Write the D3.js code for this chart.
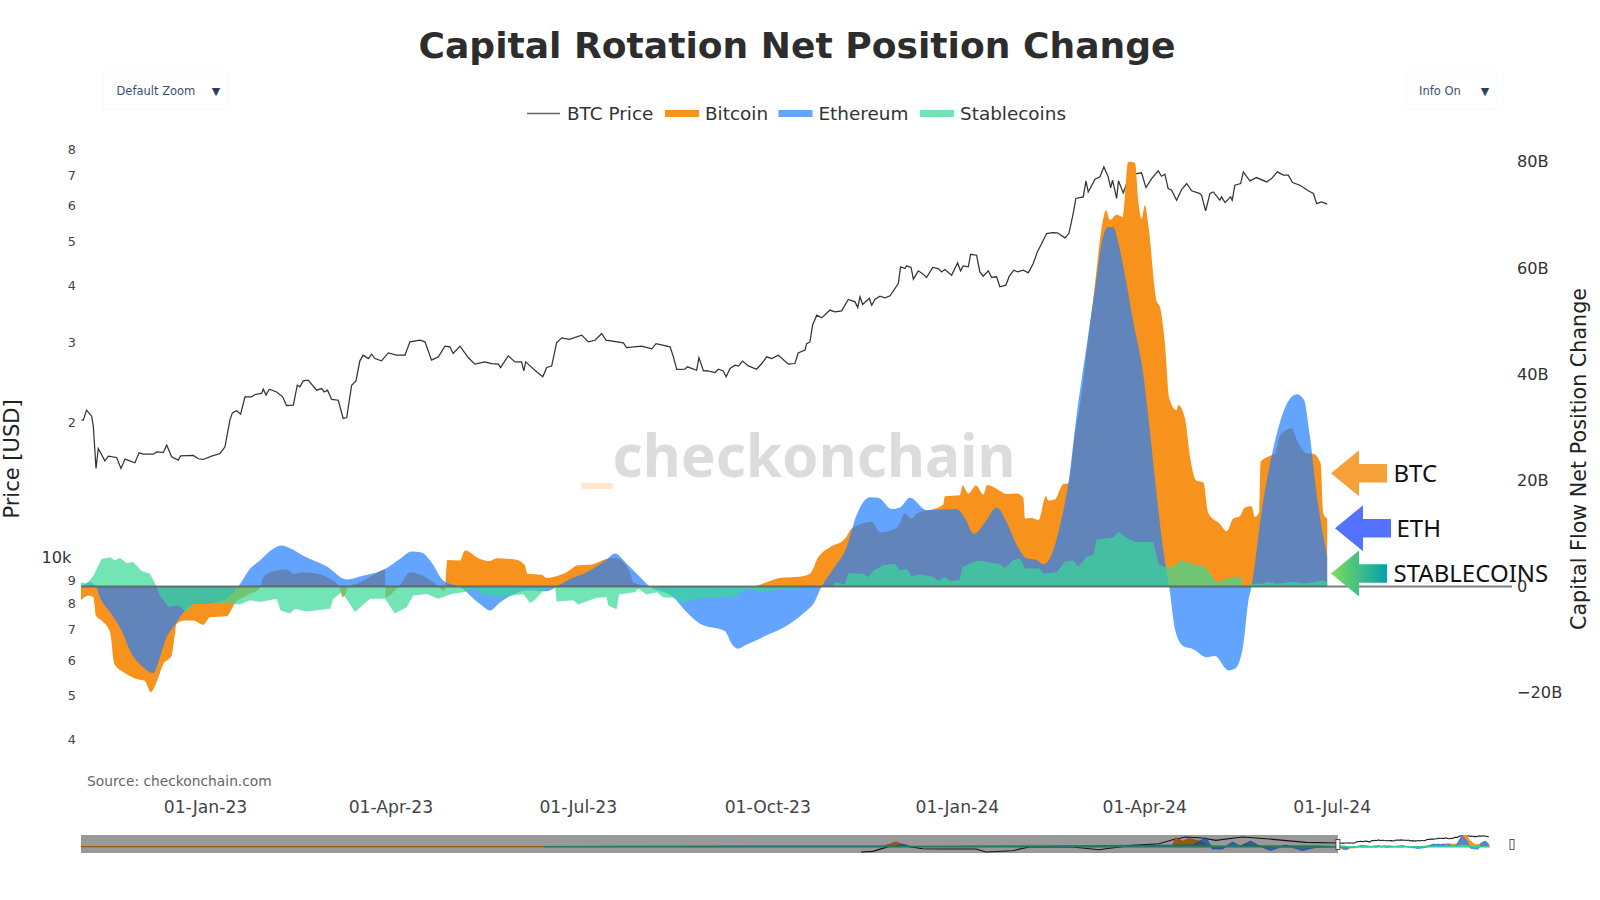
<!DOCTYPE html>
<html><head><meta charset="utf-8">
<script src="https://cdnjs.cloudflare.com/ajax/libs/d3/7.8.5/d3.min.js"></script>
<style>html,body{margin:0;padding:0;background:#fff;overflow:hidden}svg{display:block}text{font-family:"DejaVu Sans",sans-serif}</style>
</head><body><svg id="c" width="1600" height="900"></svg>
<script>
// All series are [days since 01-Jan-23, value]. Prices in USD, flows in $B.
const btcPrice=[[-60,20240],[-59.1,20240],[-57.5,21290],[-55,20650],[-54.2,19570],[-52.9,15840],[-51.8,17530],[-48.6,16470],[-46.9,16860],[-42.9,16750],[-40.8,15840],[-38.8,16610],[-34,16300],[-32,17150],[-30,17030],[-25.1,17030],[-23.5,17230],[-20.2,17180],[-18.6,17830],[-16.2,16800],[-13,16530],[-11.8,16890],[-5.7,16920],[-3.2,16640],[-.8,16580],[3.2,16860],[7.3,17090],[9.7,17680],[12.1,20240],[13.3,21000],[15.4,21220],[17.3,20860],[19.4,22780],[22.6,22780],[24.3,23050],[27.5,23170],[28.3,23680],[29.6,22980],[31.2,23680],[34.8,23350],[37.7,22780],[39.6,21800],[42.9,21840],[44.8,24160],[46.1,23960],[47.7,24700],[50.1,24790],[54.2,23560],[56.6,23750],[57.9,23350],[59.5,23560],[61.5,22480],[64.7,22390],[67.1,20410],[68.8,20510],[71.2,24160],[73.3,24700],[75.2,27340],[76.8,28130],[79.3,27660],[80.9,28270],[82.5,27660],[85.7,27340],[89,28470],[93,28130],[97.1,28130],[99.5,30110],[104.4,30350],[106.8,30110],[110,27440],[113.3,27900],[116.5,29450],[118.9,29360],[120.5,28380],[123.8,29450],[127.8,27800],[131,26880],[135.9,27200],[139.1,26970],[142.4,26880],[143.5,26430],[147.2,28040],[150.5,27200],[153.7,27200],[154.8,25980],[155.7,27200],[157.8,26650],[161,25860],[164,25210],[165.9,26430],[168.3,26620],[170.7,29960],[173.2,30720],[176.9,30470],[182.9,31150],[186.1,30100],[189.4,30350],[192.6,31400],[194.7,30350],[203.1,29960],[204.7,29250],[212,29450],[216.9,29050],[219,29840],[225.8,29360],[227.4,27900],[229,26170],[233,26200],[234.2,26520],[238.7,26070],[239.8,27770],[242,25980],[243.6,26000],[247.6,25770],[249.2,26200],[251.6,25980],[253,25210],[254.9,26300],[257.3,26750],[259,26620],[261,27300],[263.8,26650],[267.8,26200],[270.3,26970],[272.7,27900],[275.1,27660],[278.4,28130],[283.2,26880],[286.4,26970],[288,28470],[291.3,28870],[292.1,29840],[293.7,30090],[295,32800],[297,34470],[299.4,34000],[303.4,35370],[305.9,35040],[309.1,35220],[312.3,37330],[315.6,36870],[316.9,35830],[318,37810],[319.3,36380],[322.5,37520],[323.7,36250],[325.3,37370],[327.7,37950],[330.1,37640],[332.6,38020],[336.6,40470],[337.7,44020],[339.8,43660],[340.6,44250],[342.8,43890],[343.9,41370],[346.3,43150],[348.7,42430],[350.3,41720],[353.3,43890],[356,43650],[357.6,42920],[359.2,43460],[362.5,42220],[365.4,44950],[366.8,43150],[368.1,44260],[370.6,44030],[371.7,46930],[374.6,46700],[376.2,42920],[377.8,42000],[380.3,43150],[381.9,41720],[384.3,41870],[385.9,39800],[388.8,40120],[390.5,42000],[392.7,43300],[394.5,42920],[397.3,43300],[399.7,42720],[402.1,44780],[404.1,47500],[406.2,49570],[408.6,52130],[411.5,52390],[413.8,52340],[417.5,51000],[419.4,52130],[421.5,57700],[422.8,62280],[426.4,62790],[427.7,68090],[428.8,64370],[432.1,68680],[434.5,69500],[436.4,73100],[438.5,69500],[439.7,65730],[440.6,68330],[442.6,62280],[443.5,68090],[445.8,64060],[449,70100],[452.3,70680],[454.7,70950],[456.8,65810],[459.6,68900],[462.8,71640],[464.4,69710],[466,70450],[467.6,65480],[469.3,64950],[471.7,61740],[474.1,65140],[476.6,67200],[479,64750],[483,63860],[483.8,63320],[485.8,58490],[487.9,63860],[489.5,64370],[492.7,61740],[493.5,62790],[495.2,60990],[497.9,62790],[498.7,61740],[500,66600],[502.8,67200],[504.1,71280],[507.3,68090],[510.5,69250],[515.4,67730],[517.8,68900],[520.6,71280],[523.5,70100],[525.9,70100],[528,67530],[531.6,66600],[535.6,64750],[538.1,63860],[539.7,60680],[542.1,61220],[544.8,60500]];
const bitcoinFlow=[[-60.2,-2.6],[-56.6,-1.7],[-54.2,-2],[-52.9,-5.5],[-50.2,-6.4],[-46.1,-8.6],[-44,-14.6],[-39.7,-16.1],[-33.2,-17.4],[-29.1,-17.8],[-26.4,-19.9],[-23.5,-18],[-20.2,-14.6],[-16.2,-13],[-14.6,-8.9],[-13.8,-7],[-9.7,-6.4],[-5.7,-6.4],[-.8,-7.2],[2.4,-5.8],[10.5,-5.6],[14.6,-3.1],[20.2,-1.7],[26.7,-.3],[28.3,1.8],[34.8,3],[39.6,3.2],[42.9,2.4],[47.7,2.7],[55.8,2.3],[60.7,1.4],[64.7,.2],[67.1,-2],[69.5,-.2],[75.2,.8],[81.7,2.1],[87.4,3.2],[87.7,-2],[93.8,-.1],[94.6,.2],[99.5,2.7],[105.2,2.1],[110.8,.8],[116.5,-.8],[117.6,5],[123.8,4.9],[126.2,6.8],[133.5,5.2],[138.4,4.8],[141.6,5.3],[150.5,5.1],[155.3,4],[156.5,2.4],[163.4,2.2],[165.9,1.6],[169.1,1.8],[175.6,2.7],[181.2,4],[186.9,4.1],[195,5.2],[199,5.4],[206.3,2.7],[207.9,.8],[216,0],[224,-.3],[266.2,0],[272.7,.8],[279.1,1.6],[289.6,1.9],[293.7,2.4],[297.7,5.5],[303.4,7.4],[310.7,9],[313.9,10.9],[323.6,12.2],[327.7,10.2],[335.8,11],[337.4,12],[339.8,13.8],[343.1,12.8],[345.5,13.8],[352,14.4],[358.4,15.4],[359.2,17],[366.5,17.2],[367.8,19],[370.6,17.5],[374.3,19],[377.9,17.3],[379.8,19.1],[386,18],[389.2,17.4],[394,17.5],[397.3,16.7],[398.1,12.8],[401.3,12.9],[404.6,12.5],[408.3,17],[409.4,16.2],[412.6,16.4],[416.7,19.3],[419.1,19.4],[422.4,29],[424.8,34.2],[429.6,49.2],[431.3,54.4],[436.1,69.3],[437.4,70.9],[439.3,69],[442.6,70],[445.5,69.6],[448.2,80],[451.5,79.8],[453.1,72.5],[454.7,69.3],[456.3,71.8],[458,68],[462,53.7],[463.6,52.7],[466,45.9],[468.1,35.5],[471.7,33.2],[472.5,34.2],[475.8,31.6],[478.2,24.5],[481.4,19.9],[484.7,19.6],[487.1,13.8],[492.7,11.8],[496,10.4],[499.2,12.8],[502.5,13.3],[504.9,14.9],[508.1,15.1],[509.7,13.1],[511.8,14.1],[512.5,23.5],[517,24.6],[519.4,25],[521.9,28.4],[527.5,29.8],[530,27.7],[534.8,25.1],[538,25],[541.6,23.2],[542.9,13.8],[544.8,12.8]];
const ethereumFlow=[[-60.2,0],[-55.8,.8],[-52.9,0],[-51,-2],[-46.1,-4.8],[-40.5,-8.3],[-35.6,-12.7],[-31.6,-14.6],[-25.1,-16.3],[-21.9,-13.3],[-18.6,-9.5],[-14.6,-7.2],[-9.7,-4.5],[-5.7,-3.3],[2.4,-3.1],[8.9,-2.6],[12.9,-1.4],[16.2,0],[21.8,3.3],[26.7,4.9],[33.2,7.1],[37.2,7.7],[41.3,7.2],[47.7,5.8],[59,3.8],[68.8,1.3],[75.2,1.9],[87.4,3.3],[94.6,5.2],[100.3,6.6],[105.2,6.4],[110,4.5],[115.7,1.1],[123.8,-.1],[133.5,-3.3],[138.4,-4.5],[143.2,-3],[149.7,-1.5],[156.2,-.7],[165.9,-.9],[170.7,0],[177.2,1.4],[185.3,2.7],[195,5.1],[199,6.2],[204.7,4.3],[211.2,1.8],[216,0],[227.4,-2],[233.8,-4.8],[240.3,-7],[252.4,-8.4],[255.7,-10.8],[258.4,-11.7],[263,-10.9],[272.7,-9.2],[284,-7],[291.3,-4.8],[295.3,-3.3],[299.4,0],[305,3.3],[311.5,7.4],[316.3,13.4],[322.8,16.8],[326.9,16.7],[333.3,14.6],[337.4,14.9],[342.3,16.7],[350.3,14.4],[364.9,14.6],[369,12.8],[373.3,9.9],[378.7,12.1],[384.3,14.9],[389.2,12.1],[394,7.9],[398.9,5.3],[403.7,5],[407,4.2],[411,6],[415.1,11.5],[419.1,19.3],[423.2,32.3],[428,45.3],[432.9,58.2],[435.3,64.7],[438.5,67.7],[441,67.7],[443.4,64.7],[447.4,57],[450.7,49.8],[455.5,40],[458.8,29],[462,17.3],[465.2,6.9],[468.1,0],[470.9,-8],[474.9,-11.2],[479.8,-11.8],[486.3,-13.3],[490.3,-13.1],[496.8,-15.8],[500,-15.5],[504,-11.2],[506.5,-2.8],[508.1,0],[513,14.1],[517.8,24.5],[521.9,31],[525.9,34.9],[530,36.2],[533.5,35.2],[536.4,28.4],[539.7,17.3],[542.9,9.5],[544.8,5.6]];
const stablecoinFlow=[[-60.2,.8],[-57.5,.5],[-54.2,2],[-50.2,5.2],[-46.1,5.5],[-43.7,4.9],[-41.3,5.4],[-38,4.4],[-34.8,4.6],[-30.8,2.9],[-26.7,2.4],[-23.5,0],[-21.9,-1.7],[-17.8,-3.8],[-13,-3.6],[-8.9,-4.8],[-5.7,-3.3],[2.4,-3],[13.7,-3.3],[17,-3.4],[21.8,-2.6],[26.7,-2.9],[34.8,-2.3],[36.7,-4.5],[41.3,-5.1],[43.7,-4.2],[49.3,-4.7],[60.7,-4.2],[62.3,-2.3],[66.3,-1.1],[70.4,-3.3],[72.8,-4.8],[80.1,-2.3],[87.4,-2.3],[92.2,-5.1],[97.9,-3.9],[101.1,-1.7],[107.6,-1.4],[113.3,-2.3],[119.7,-1.4],[125.4,-1.1],[131.9,-.3],[133.5,-1.4],[141.6,-2],[149.7,-1.7],[154.5,-1.4],[157.8,-3.1],[160.2,-2.5],[164.2,-.8],[169.9,.4],[170.7,-2.8],[178.8,-2.6],[181.2,-3.4],[190.1,-2.1],[195,-2],[195.8,-3.6],[199.8,-4.3],[201.1,-1.5],[208.7,-1.1],[210.4,-.4],[214.4,-1.5],[219.3,-1.1],[222.5,-2],[227.4,-2.1],[232.2,-3],[238.7,-2.3],[246.8,-2.1],[256.5,-2],[263,-.4],[271,-1.1],[279.1,-.4],[287.2,-.4],[292.9,.3],[298.5,-.1],[304.2,-.1],[305.8,.8],[310.7,.4],[312.3,2.5],[319.6,2.4],[322,1.8],[324.4,3],[329.3,4],[334.9,4.3],[337.4,3],[340.6,3.4],[343.1,1.9],[347.1,2.3],[353.6,1.8],[356,1.1],[359.2,1.8],[361.7,1.1],[366.2,1.2],[367.8,3.7],[375.4,4.9],[386,4.2],[388.4,3.5],[392.4,5],[395.7,5.3],[398.1,3.4],[405.4,3.4],[407,2.4],[413.5,2.7],[417.5,4.7],[421.5,4.9],[424,3.7],[428,5.6],[431.3,6],[432.9,8.9],[441,9.2],[443.4,10.3],[447.4,9.2],[451.5,8.4],[460.4,8.4],[462.8,4.4],[465.2,3.7],[470.1,3.7],[474.1,5],[479.8,4.2],[485.5,3.7],[491.1,.8],[499.2,1.8],[502.5,1.9],[504.1,0],[508.1,.5],[513,.5],[516.2,.9],[520.2,.5],[528.3,.9],[533.2,.6],[538,.8],[542.9,1.2],[544.8,.8]];
// Earlier history, only seen in the range slider
const historyPrice=[[-1972,2790],[-1925,3170],[-1859,8660],[-1832,16900],[-1785,8660],[-1725,5420],[-1658,5070],[-1511,5070],[-1471,2790],[-1365,3640],[-1298,7560],[-1124,7560],[-1017,4430],[-991,5420],[-884,10580],[-777,14780],[-723,32880],[-670,56100],[-603,45800],[-550,28700],[-443,56100],[-336,37500],[-189,19270],[-69,16900]];
const historyBitcoin=[[-5100,.5],[-1885,.5],[-1832,31],[-1779,0],[-790,1],[-723,8],[-710,60],[-683,35],[-657,55],[-610,35],[-577,0],[-456,0],[-430,20],[-403,5],[-149,6],[-96,2],[-69,0]];
const historyEthereum=[[-3245,0],[-1832,5],[-1805,15],[-1772,0],[-643,10],[-590,60],[-563,-15],[-523,-15],[-483,30],[-450,3],[-410,38],[-376,5],[-330,-25],[-270,10],[-203,-25],[-149,-5],[-69,0]];
const historyStable=[[-3245,0],[-1900,2],[-600,6],[-400,4],[-300,-3],[-100,-3],[-69,0]];

const priceTicks=[80000,70000,60000,50000,40000,30000,20000,10000,9000,8000,7000,6000,5000,4000];
const flowTicks=[-20,0,20,40,60,80];
const dateTicks=[[0,"01-Jan-23"],[90,"01-Apr-23"],[181,"01-Jul-23"],[273,"01-Oct-23"],[365,"01-Jan-24"],[456,"01-Apr-24"],[547,"01-Jul-24"]];
const legendItems=[["BTC Price","line"],["Bitcoin","#F7931C"],["Ethereum","#217EFF"],["Stablecoins","#37D897"]];
const seriesColor={btc:"#F7931C",eth:"#217EFF",stable:"#37D897"};

const toDate=d=>new Date(Date.UTC(2023,0,1)+d*864e5);
const svg=d3.select("#c");
const x=d3.scaleUtc().domain([toDate(-60),toDate(634)]).range([81.4,1510.9]);
const yPrice=d3.scaleLog().domain([100000,3500]).range([105.1,766.2]);
const yFlow=d3.scaleLinear().domain([-33.84,90.66]).range([766.2,105.1]);

// watermark
svg.append("text").attr("x",814).attr("y",477).attr("text-anchor","middle").style("font-family","'Noto Sans'").style("font-weight",700).style("font-size","58.5px").attr("fill","#dcdcdc").text("checkonchain");
svg.append("rect").attr("x",581).attr("y",483).attr("width",32).attr("height",6).attr("fill","#FFE7CC");

// title
svg.append("text").attr("x",797).attr("y",58).attr("text-anchor","middle").style("font-weight",700).style("font-size","36.1px").attr("fill","#2d2d2d").text("Capital Rotation Net Position Change");

// main marks
const line=(xs,ys)=>d3.line().x(d=>xs(toDate(d[0]))).y(d=>ys(d[1]));
const area=(xs,ys,curve)=>d3.area().curve(curve||d3.curveLinear).x(d=>xs(toDate(d[0]))).y0(ys(0)).y1(d=>ys(d[1]));
svg.append("path").attr("d",line(x,yPrice)(btcPrice)).attr("fill","none").attr("stroke","#333").attr("stroke-width",1.25);
svg.append("path").attr("d",area(x,yFlow,d3.curveMonotoneX)(bitcoinFlow)).attr("fill",seriesColor.btc);
svg.append("path").attr("d",area(x,yFlow,d3.curveMonotoneX)(ethereumFlow)).attr("fill",seriesColor.eth).attr("fill-opacity",.7);
svg.append("path").attr("d",area(x,yFlow)(stablecoinFlow)).attr("fill",seriesColor.stable).attr("fill-opacity",.7);
svg.append("line").attr("x1",81).attr("x2",1512).attr("y1",yFlow(0)).attr("y2",yFlow(0)).attr("stroke","#555").attr("stroke-opacity",.75).attr("stroke-width",2);

// axes
const leftAxis=d3.axisLeft(yPrice).tickValues(priceTicks).tickSize(0).tickPadding(0).tickFormat(d=>d===10000?"10k":String(d/(d>=10000?10000:1000)));
const gL=svg.append("g").attr("transform","translate(76,0)").call(leftAxis);
gL.select(".domain").remove();
gL.selectAll("text").style("font-family","'DejaVu Sans'").style("font-size","12.8px").attr("fill","#444");
gL.selectAll("text").filter(d=>d===10000).style("font-size","16.2px").attr("x",-4.5).attr("dy","0.2em").attr("fill","#333");
const rightAxis=d3.axisRight(yFlow).tickValues(flowTicks).tickSize(0).tickPadding(5).tickFormat(d=>d===0?"0":(d<0?"\u2212":"")+Math.abs(d)+"B");
const gR=svg.append("g").attr("transform","translate(1512,0)").call(rightAxis);
gR.select(".domain").remove();
gR.selectAll("text").style("font-family","'DejaVu Sans'").style("font-size","16.2px").attr("fill","#333");
const bottomAxis=d3.axisBottom(x).tickValues(dateTicks.map(d=>toDate(d[0]))).tickSize(0).tickPadding(0).tickFormat((d,i)=>dateTicks[i][1]);
const gB=svg.append("g").attr("transform","translate(0,801)").call(bottomAxis);
gB.select(".domain").remove();
gB.selectAll("text").style("font-family","'DejaVu Sans'").style("font-size","17.2px").attr("fill","#444");

svg.append("text").attr("transform","translate(19,459) rotate(-90)").attr("text-anchor","middle").style("font-size","21px").attr("fill","#222").text("Price [USD]");
svg.append("text").attr("transform","translate(1586,459) rotate(-90)").attr("text-anchor","middle").style("font-size","20.7px").attr("fill","#222").text("Capital Flow Net Position Change");
svg.append("text").attr("x",87).attr("y",786).style("font-size","13.8px").attr("fill","#666").text("Source: checkonchain.com");

// legend
const legendX=[527,665,778.5,920], legendTextX=[567,705,818.5,960];
legendItems.forEach((it,i)=>{
  if(it[1]==="line") svg.append("line").attr("x1",legendX[i]).attr("x2",legendX[i]+33).attr("y1",113.5).attr("y2",113.5).attr("stroke","#666").attr("stroke-width",1.5);
  else svg.append("rect").attr("x",legendX[i]).attr("y",110).attr("width",34).attr("height",7).attr("fill",it[1]).attr("fill-opacity",i===1?1:.7);
  svg.append("text").attr("x",legendTextX[i]).attr("y",120).style("font-size","18.4px").attr("fill","#333").text(it[0]);
});

// dropdowns
function dropdown(bx,bw,tx,ax,label){
  svg.append("rect").attr("x",bx).attr("y",72).attr("width",bw).attr("height",37).attr("fill","#fff").attr("stroke","#f8f8f8");
  svg.append("text").attr("x",tx).attr("y",95).style("font-size","11.5px").attr("fill","#3a4f6f").text(label);
  svg.append("text").attr("x",ax).attr("y",95).attr("text-anchor","middle").style("font-size","11px").attr("fill","#2a3f5f").text("\u25BC");
}
dropdown(103,125,116.5,216,"Default Zoom");
dropdown(1406,90,1419,1485,"Info On");

// range slider
const clipId="mini";
svg.append("clipPath").attr("id",clipId).append("rect").attr("x",81).attr("y",835).attr("width",1431).attr("height",18);
const xm=d3.scaleUtc().domain([toDate(-5100),toDate(634)]).range([81,1511]);
const ymFlow=d3.scaleLinear().domain([0,80]).range([846.7,835]);
const ymPrice=d3.scaleLog().domain([60000,2297]).range([836.7,853]);
const m=svg.append("g").attr("clip-path","url(#"+clipId+")");
m.append("path").attr("d",line(xm,ymPrice)(historyPrice.concat(btcPrice))).attr("fill","none").attr("stroke","#222").attr("stroke-width",1.1);
m.append("path").attr("d",area(xm,ymFlow)(historyBitcoin.concat(bitcoinFlow))).attr("fill",seriesColor.btc).attr("stroke",seriesColor.btc).attr("stroke-width",1.3);
m.append("path").attr("d",area(xm,ymFlow)(historyEthereum.concat(ethereumFlow))).attr("fill",seriesColor.eth).attr("fill-opacity",.7).attr("stroke",seriesColor.eth).attr("stroke-opacity",.7).attr("stroke-width",1.3);
m.append("path").attr("d",area(xm,ymFlow)(historyStable.concat(stablecoinFlow))).attr("fill",seriesColor.stable).attr("fill-opacity",.7).attr("stroke",seriesColor.stable).attr("stroke-opacity",.8).attr("stroke-width",1.3);
svg.append("rect").attr("x",81).attr("y",835).attr("width",xm(toDate(-60))-81).attr("height",18).attr("fill","#000").attr("fill-opacity",.4);
[xm(toDate(-60)),xm(toDate(634))+1].forEach(h=>svg.append("rect").attr("x",h-2).attr("y",839.5).attr("width",4).attr("height",10).attr("fill","#fff").attr("stroke","#333").attr("stroke-width",.8));

// annotation arrows drawn over the chart
const defs=svg.append("defs");
const grad=defs.append("linearGradient").attr("id","stableGrad").attr("x1","0").attr("x2","1").attr("y1","0").attr("y2","0");
grad.append("stop").attr("offset","0").attr("stop-color","#7EDD5C");
grad.append("stop").attr("offset","1").attr("stop-color","#04A0B0");
const arrows=[{label:"BTC",tx:1331,ty:473.3,fill:"#F6A03A",lx:1393.5,ly:482},{label:"ETH",tx:1335,ty:528.3,fill:"#5372FF",lx:1396.5,ly:536.5},{label:"STABLECOINS",tx:1331,ty:573.5,fill:"url(#stableGrad)",lx:1393.5,ly:582}];
const arrowPath=d3.line()([[0,0],[28,-23],[28,-9.3],[56,-9.3],[56,9.3],[28,9.3],[28,23]])+"Z";
arrows.forEach(a=>{
  svg.append("path").attr("d",arrowPath).attr("transform",`translate(${a.tx},${a.ty})`).attr("fill",a.fill);
  svg.append("text").attr("x",a.lx).attr("y",a.ly).style("font-family","'Noto Sans'").style("font-size","24px").attr("fill","#111").text(a.label);
});
</script></body></html>
